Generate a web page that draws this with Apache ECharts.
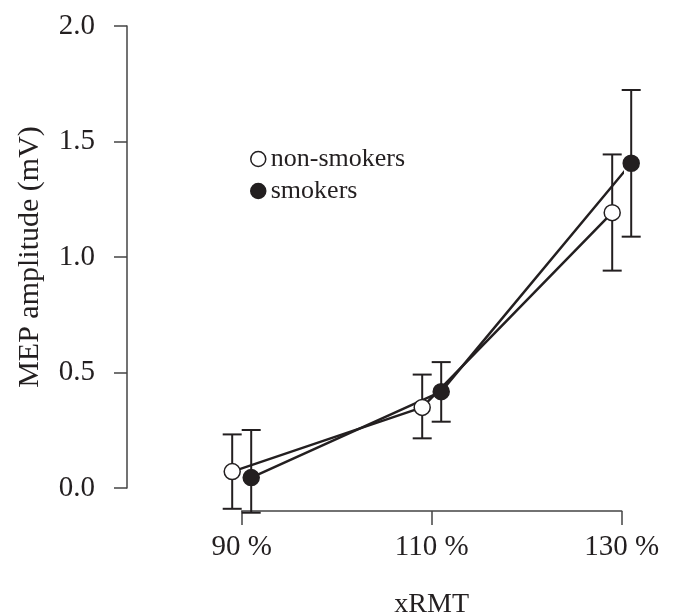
<!DOCTYPE html>
<html>
<head>
<meta charset="utf-8">
<script src="https://cdn.jsdelivr.net/npm/echarts@6/dist/echarts.min.js"></script>
<style>
  html, body { margin: 0; padding: 0; background: #fff; }
  #main { width: 673px; height: 613px; }
</style>
</head>
<body>
<div id="main"></div>
<script>
// stimulus intensity (% of resting motor threshold)
var xPct = [90, 110, 130];
var seriesNames = ['non-smokers', 'smokers'];

// mean MEP amplitude (mV) and error bar ends
var nonSmokerMean = [0.071, 0.349, 1.192];
var nonSmokerLow  = [-0.090, 0.215, 0.941];
var nonSmokerHigh = [0.232, 0.491, 1.444];

var smokerMean = [0.045, 0.417, 1.406];
var smokerLow  = [-0.107, 0.287, 1.088];
var smokerHigh = [0.251, 0.545, 1.723];

var yTicks = [0, 0.5, 1.0, 1.5, 2.0];

var FONT = "'Liberation Serif', 'Times New Roman', serif";
var INK = '#231f20';
var DODGE = 1; // small horizontal shift so the two groups don't overlap

function pts(mean, shift) {
    return xPct.map(function (x, i) { return [x + shift, mean[i]]; });
}
function bars(low, high, shift) {
    return xPct.map(function (x, i) { return [x + shift, low[i], high[i]]; });
}

function renderErrorBar(params, api) {
    var top = api.coord([api.value(0), api.value(2)]);
    var bot = api.coord([api.value(0), api.value(1)]);
    var half = 9.5;
    var style = { stroke: INK, lineWidth: 2 };
    return {
        type: 'group',
        children: [
            { type: 'line', shape: { x1: top[0], y1: top[1], x2: bot[0], y2: bot[1] }, style: style },
            { type: 'line', shape: { x1: top[0] - half, y1: top[1], x2: top[0] + half, y2: top[1] }, style: style },
            { type: 'line', shape: { x1: bot[0] - half, y1: bot[1], x2: bot[0] + half, y2: bot[1] }, style: style }
        ]
    };
}

var chart = echarts.init(document.getElementById('main'));
var option = {
    animation: false,
    backgroundColor: '#fff',
    textStyle: { fontFamily: FONT, color: INK },
    grid: { left: 241.7, right: 51.3, top: 26, bottom: 125, outerBoundsMode: 'none', containLabel: false },
    legend: {
        orient: 'vertical',
        left: 245,
        top: 141,
        itemWidth: 15,
        itemHeight: 15,
        itemGap: 6,
        textStyle: { fontFamily: FONT, fontSize: 26, color: INK },
        data: [
            { name: seriesNames[0], icon: 'circle', itemStyle: { color: '#fff', borderColor: INK, borderWidth: 1.5 } },
            { name: seriesNames[1], icon: 'circle', itemStyle: { color: INK, borderColor: INK, borderWidth: 1.5 } }
        ]
    },
    xAxis: {
        type: 'value',
        min: 90,
        max: 130,
        interval: 20,
        offset: 23,
        name: 'xRMT',
        nameLocation: 'middle',
        nameGap: 80,
        nameTextStyle: { fontFamily: FONT, fontSize: 28, color: INK },
        axisLine: { onZero: false, lineStyle: { color: '#444', width: 1.5 } },
        axisTick: { length: 14, lineStyle: { color: '#444', width: 1.5 } },
        axisLabel: {
            margin: 22,
            fontFamily: FONT, fontSize: 29, color: INK,
            formatter: function (v) { return v + ' %'; }
        },
        splitLine: { show: false }
    },
    yAxis: {
        type: 'value',
        min: yTicks[0],
        max: yTicks[yTicks.length - 1],
        interval: 0.5,
        offset: 114.7,
        name: 'MEP amplitude (mV)',
        nameLocation: 'middle',
        nameGap: 82,
        nameTextStyle: { fontFamily: FONT, fontSize: 30, color: INK },
        axisLine: { show: true, onZero: false, lineStyle: { color: '#444', width: 1.5 } },
        axisTick: { show: true, length: 13, lineStyle: { color: '#444', width: 1.5 } },
        axisLabel: {
            margin: 32,
            fontFamily: FONT, fontSize: 29, color: INK,
            formatter: function (v) { return v.toFixed(1); }
        },
        splitLine: { show: false }
    },
    series: [
        {
            type: 'custom',
            name: seriesNames[0] + ' err',
            renderItem: renderErrorBar,
            data: bars(nonSmokerLow, nonSmokerHigh, -DODGE),
            clip: false,
            z: 1
        },
        {
            type: 'custom',
            name: seriesNames[1] + ' err',
            renderItem: renderErrorBar,
            data: bars(smokerLow, smokerHigh, DODGE),
            clip: false,
            z: 1
        },
        {
            type: 'line',
            name: seriesNames[0],
            data: pts(nonSmokerMean, -DODGE),
            symbol: 'circle',
            symbolSize: 16,
            clip: false,
            lineStyle: { color: INK, width: 2.5 },
            itemStyle: { color: '#fff', borderColor: INK, borderWidth: 1.5 },
            z: 3
        },
        {
            type: 'line',
            name: seriesNames[1],
            data: pts(smokerMean, DODGE),
            symbol: 'circle',
            symbolSize: 16,
            clip: false,
            lineStyle: { color: INK, width: 2.5 },
            itemStyle: { color: INK, borderColor: INK, borderWidth: 1.5 },
            z: 3
        }
    ]
};
chart.setOption(option);
</script>
</body>
</html>
